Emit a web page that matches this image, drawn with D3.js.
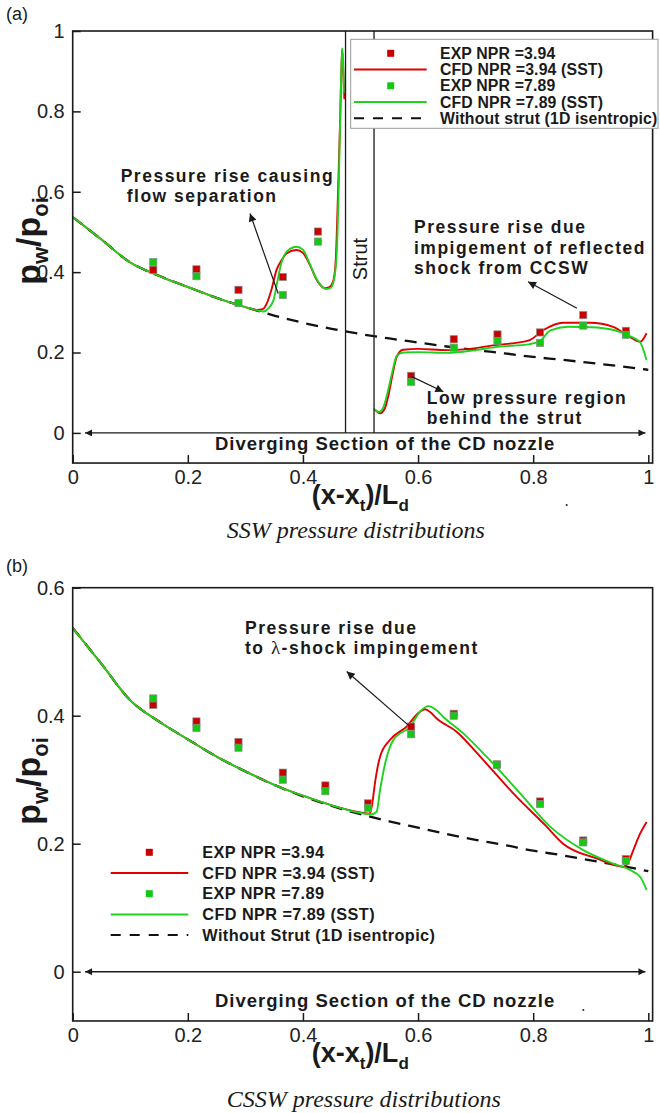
<!DOCTYPE html>
<html>
<head>
<meta charset="utf-8">
<script src="https://cdn.jsdelivr.net/npm/d3@7"></script>
<style>
  body { margin: 0; background: #fff; }
</style>
</head>
<body>
<div id="chart"></div>
<script>
// ---------- data ----------
const xTicks = [0, 0.2, 0.4, 0.6, 0.8, 1];
const yTicksA = [0, 0.2, 0.4, 0.6, 0.8, 1];
const yTicksB = [0, 0.2, 0.4, 0.6];

// 1D isentropic (without strut), same in both panels
const isoX = [0, 0.05, 0.1, 0.15, 0.2, 0.25, 0.3, 0.35, 0.4, 0.45, 0.5, 0.55, 0.6, 0.65, 0.7, 0.75, 0.8, 0.85, 0.9, 0.95, 1.0];
const isoP = [0.537, 0.481, 0.424, 0.391, 0.363, 0.336, 0.313, 0.292, 0.274, 0.259, 0.246, 0.235, 0.225, 0.215, 0.206, 0.198, 0.189, 0.182, 0.174, 0.166, 0.157];

// (a) SSW - experiments
const expXA = [0.14, 0.215, 0.288, 0.365, 0.426, 0.588, 0.662, 0.738, 0.812, 0.887, 0.961];
const expA394 = [0.406, 0.407, 0.356, 0.388, 0.501, 0.142, 0.233, 0.245, 0.250, 0.293, 0.254];
const expA789 = [0.425, 0.390, 0.323, 0.343, 0.476, 0.127, 0.212, 0.229, 0.224, 0.267, 0.244];

// (a) SSW - CFD, upstream of the strut and downstream of it
const cfdA394up = [[0, 0.537], [0.05, 0.481], [0.1, 0.424], [0.15, 0.391], [0.2, 0.363], [0.25, 0.336], [0.3, 0.313],
  [0.32, 0.306], [0.33, 0.308], [0.338, 0.325], [0.346, 0.36], [0.354, 0.405], [0.363, 0.43], [0.372, 0.447],
  [0.389, 0.455], [0.4, 0.448], [0.412, 0.418], [0.425, 0.378], [0.438, 0.36], [0.446, 0.363], [0.453, 0.38],
  [0.457, 0.43], [0.461, 0.6], [0.465, 0.8], [0.468, 0.955], [0.470, 0.9], [0.472, 0.83]];
const cfdA789up = [[0, 0.537], [0.05, 0.481], [0.1, 0.424], [0.15, 0.391], [0.2, 0.363], [0.25, 0.336], [0.3, 0.313],
  [0.32, 0.305], [0.331, 0.302], [0.34, 0.31], [0.349, 0.331], [0.356, 0.38], [0.362, 0.42], [0.372, 0.451],
  [0.389, 0.463], [0.4, 0.456], [0.412, 0.42], [0.425, 0.38], [0.441, 0.358], [0.449, 0.362], [0.455, 0.39],
  [0.459, 0.455], [0.462, 0.6], [0.465, 0.8], [0.468, 0.957], [0.470, 0.92], [0.471, 0.845]];
const cfdA394dn = [[0.525, 0.058], [0.534, 0.049], [0.542, 0.06], [0.548, 0.09], [0.555, 0.14], [0.563, 0.19],
  [0.574, 0.207], [0.6, 0.209], [0.65, 0.206], [0.7, 0.211], [0.737, 0.219], [0.77, 0.224], [0.794, 0.231],
  [0.818, 0.256], [0.852, 0.274], [0.899, 0.274], [0.939, 0.264], [0.968, 0.239], [0.986, 0.227], [0.997, 0.248]];
const cfdA789dn = [[0.523, 0.06], [0.532, 0.052], [0.54, 0.065], [0.547, 0.1], [0.555, 0.15], [0.563, 0.192],
  [0.575, 0.2], [0.6, 0.201], [0.65, 0.199], [0.7, 0.206], [0.737, 0.214], [0.794, 0.221], [0.812, 0.229],
  [0.83, 0.255], [0.86, 0.264], [0.9, 0.263], [0.94, 0.256], [0.968, 0.241], [0.986, 0.225], [0.997, 0.181]];

// (b) CSSW - experiments
const expXB = [0.14, 0.215, 0.288, 0.365, 0.439, 0.513, 0.588, 0.662, 0.737, 0.812, 0.887, 0.961];
const expB394 = [0.417, 0.391, 0.359, 0.311, 0.291, 0.263, 0.383, 0.403, 0.324, 0.266, 0.205, 0.176];
const expB789 = [0.427, 0.381, 0.350, 0.300, 0.282, 0.256, 0.371, 0.400, 0.323, 0.262, 0.202, 0.173];

// (b) CSSW - CFD
const cfdB394 = [[0, 0.537], [0.05, 0.481], [0.1, 0.424], [0.15, 0.391], [0.2, 0.363], [0.25, 0.336], [0.3, 0.313],
  [0.35, 0.292], [0.4, 0.275], [0.45, 0.26], [0.5, 0.249], [0.516, 0.247], [0.52, 0.26], [0.525, 0.294],
  [0.534, 0.336], [0.551, 0.362], [0.58, 0.383], [0.603, 0.406], [0.612, 0.41], [0.622, 0.405], [0.632, 0.396],
  [0.667, 0.375], [0.708, 0.336], [0.765, 0.279], [0.823, 0.227], [0.852, 0.2], [0.91, 0.177], [0.957, 0.164],
  [0.965, 0.17], [0.974, 0.19], [0.986, 0.216], [0.997, 0.234]];
const cfdB789 = [[0, 0.537], [0.05, 0.481], [0.1, 0.424], [0.15, 0.391], [0.2, 0.363], [0.25, 0.336], [0.3, 0.313],
  [0.35, 0.292], [0.4, 0.275], [0.45, 0.26], [0.5, 0.248], [0.519, 0.246], [0.528, 0.25], [0.534, 0.284],
  [0.543, 0.326], [0.557, 0.362], [0.586, 0.383], [0.605, 0.408], [0.618, 0.415], [0.63, 0.41], [0.644, 0.398],
  [0.679, 0.372], [0.719, 0.336], [0.777, 0.279], [0.829, 0.227], [0.887, 0.19], [0.939, 0.169], [0.968, 0.159],
  [0.986, 0.148], [0.997, 0.128]];

const legendA = ["EXP NPR =3.94", "CFD NPR =3.94 (SST)", "EXP NPR =7.89", "CFD NPR =7.89 (SST)", "Without strut (1D isentropic)"];
const legendB = ["EXP NPR =3.94", "CFD NPR =3.94 (SST)", "EXP NPR =7.89", "CFD NPR =7.89 (SST)", "Without Strut (1D isentropic)"];

const strutEdges = [0.474, 0.5235];
const arrowSpan = [0.0215, 0.995];
const sectionText = "Diverging Section of the CD nozzle";
const notesA1 = ["Pressure rise causing", "flow separation"];
const notesA2 = ["Pressure rise due", "impigement of reflected", "shock from CCSW"];
const notesA3 = ["Low pressure region", "behind the strut"];
const notesB = ["Pressure rise due", "to ", "-shock impingement"];
// annotation arrows [tailX, tailY, tipX, tipY] in data units
const arrowsA = [[0.357, 0.347, 0.308, 0.546], [0.876, 0.31, 0.791, 0.376], [0.589, 0.14, 0.644, 0.1025]];
const arrowsB = [[0.586, 0.383, 0.476, 0.469]];

// ---------- drawing ----------
const sans = "'Liberation Sans', Arial, Helvetica, sans-serif";
const serif = "'Liberation Serif', 'Times New Roman', serif";
const redLine = "#e00000", greenLine = "#1ed21e";
const redMark = "#c80000", greenMark = "#14c814";
const ink = "#1a1a1a";

const svg = d3.select("#chart").append("svg")
    .attr("width", 660)
    .attr("height", 1113);

const defs = svg.append("defs");
defs.append("marker")
    .attr("id", "head")
    .attr("viewBox", "0 0 10 10")
    .attr("refX", 10).attr("refY", 5)
    .attr("markerUnits", "userSpaceOnUse")
    .attr("markerWidth", 11).attr("markerHeight", 8)
    .attr("orient", "auto")
    .append("path").attr("d", "M0,0L10,5L0,10z").attr("fill", ink);
defs.append("marker")
    .attr("id", "bighead")
    .attr("viewBox", "0 0 10 10")
    .attr("refX", 10).attr("refY", 5)
    .attr("markerUnits", "userSpaceOnUse")
    .attr("markerWidth", 15).attr("markerHeight", 7)
    .attr("orient", "auto-start-reverse")
    .append("path").attr("d", "M0,0L10,5L0,10z").attr("fill", ink);

function drawPanel(p) {
    const x = d3.scaleLinear().domain([0, 1]).range([72.7, 648.3]);
    const y = d3.scaleLinear().domain([0, p.yMax]).range([p.yZeroPx, p.yTopPx]);
    const left = x(0), right = x(1.0075), top = y(p.yMax), bottom = y(p.yMin);
    const g = svg.append("g");

    const line = d3.line()
        .x(d => x(d[0]))
        .y(d => y(d[1]))
        .curve(d3.curveMonotoneX);

    // axes (ticks point into the plot)
    const minorX = d3.range(1, 20).map(i => i * 0.05).filter((v, i) => (i + 1) % 4 !== 0);
    const minorY = d3.range(-1, Math.round(p.yMax * 20)).map(i => i * 0.05).filter((v, i) => (i - 1 + 4) % 4 !== 0);

    const xAxisG = g.append("g").attr("transform", `translate(0,${bottom})`);
    xAxisG.call(d3.axisBottom(x).tickValues(minorX).tickSize(-5).tickFormat(""));
    xAxisG.call(d3.axisBottom(x).tickValues(xTicks).tickSize(-8).tickPadding(7).tickFormat(d3.format("~g")));
    const yAxisG = g.append("g").attr("transform", `translate(${left},0)`);
    yAxisG.call(d3.axisLeft(y).tickValues(minorY).tickSize(-5).tickFormat(""));
    yAxisG.call(d3.axisLeft(y).tickValues(p.yTicks).tickSize(-8).tickPadding(8).tickFormat(d3.format("~g")));
    [xAxisG, yAxisG].forEach(a => {
        a.selectAll(".domain").remove();
        a.attr("color", ink);
        a.selectAll("line").attr("stroke-width", 1.5);
        a.selectAll("text").style("font-family", sans).style("font-size", "20px").attr("fill", "#222");
    });

    // isentropic line
    g.append("path")
        .datum(d3.zip(isoX, isoP))
        .attr("d", line)
        .attr("fill", "none")
        .attr("stroke", "#111")
        .attr("stroke-width", 2.3)
        .attr("stroke-dasharray", "12,8");

    // CFD lines
    p.red.forEach(seg => g.append("path").datum(seg).attr("d", line)
        .attr("fill", "none").attr("stroke", redLine).attr("stroke-width", 1.9));
    p.green.forEach(seg => g.append("path").datum(seg).attr("d", line)
        .attr("fill", "none").attr("stroke", greenLine).attr("stroke-width", 1.9));

    // experimental squares
    [[p.exp394, redMark], [p.exp789, greenMark]].forEach(([vals, col]) => {
        g.append("g").selectAll("rect")
            .data(d3.zip(p.expX, vals))
            .enter().append("rect")
            .attr("x", d => x(d[0]) - 3.6)
            .attr("y", d => y(d[1]) - 3.6)
            .attr("width", 7.2)
            .attr("height", 7.2)
            .attr("fill", col)
            .attr("stroke", "#8a8a8a")
            .attr("stroke-width", 0.7);
    });

    // frame
    g.append("rect")
        .attr("x", left).attr("y", top)
        .attr("width", right - left).attr("height", bottom - top)
        .attr("fill", "none").attr("stroke", ink).attr("stroke-width", 1.6);

    // double arrow along y = 0
    g.append("line")
        .attr("x1", x(arrowSpan[0])).attr("x2", x(arrowSpan[1]))
        .attr("y1", y(0)).attr("y2", y(0))
        .attr("stroke", ink).attr("stroke-width", 1.4)
        .attr("marker-start", "url(#bighead)")
        .attr("marker-end", "url(#bighead)");
    g.append("text")
        .attr("x", 215).attr("y", y(0) + p.sectionDy)
        .style("font-family", sans).style("font-size", "18.5px").style("font-weight", "bold")
        .style("letter-spacing", "1px")
        .attr("fill", ink)
        .text(sectionText);

    // annotation arrows
    g.selectAll(".note-arrow")
        .data(p.arrows)
        .enter().append("line")
        .attr("x1", d => x(d[0])).attr("y1", d => y(d[1]))
        .attr("x2", d => x(d[2])).attr("y2", d => y(d[3]))
        .attr("stroke", ink).attr("stroke-width", 1.2)
        .attr("marker-end", "url(#head)");

    // y label p_w/p_oi
    const yl = g.append("text")
        .attr("transform", `translate(40,${p.yLabelY}) rotate(-90)`)
        .attr("text-anchor", "middle")
        .style("font-family", sans).style("font-weight", "bold").style("font-size", "34px")
        .attr("fill", ink);
    yl.append("tspan").text("p");
    yl.append("tspan").attr("dy", 8).style("font-size", "22px").text("w");
    yl.append("tspan").attr("dy", -8).text("/p");
    yl.append("tspan").attr("dy", 8).style("font-size", "22px").text("oi");

    // x label (x-x_t)/L_d
    const xl = g.append("text")
        .attr("x", 311.7).attr("y", bottom + 41)
        .style("font-family", sans).style("font-weight", "bold").style("font-size", "27px")
        .attr("fill", ink);
    xl.append("tspan").text("(x-x");
    xl.append("tspan").attr("dy", 7).style("font-size", "17px").text("t");
    xl.append("tspan").attr("dy", -7).text(")/L");
    xl.append("tspan").attr("dy", 7).style("font-size", "17px").text("d");

    // caption + panel letter
    g.append("text")
        .attr("x", 226.7).attr("y", p.captionY)
        .style("font-family", serif).style("font-style", "italic").style("font-size", "24px")
        .attr("fill", ink)
        .text(p.caption);
    g.append("text")
        .attr("x", 6).attr("y", p.letterY)
        .style("font-family", sans).style("font-size", "18px")
        .attr("fill", ink)
        .text(p.letter);
    g.append("circle").attr("cx", p.dot[0]).attr("cy", p.dot[1]).attr("r", 1.1).attr("fill", "#333");

    return { g, x, y, top, bottom };
}

function noteLines(g, lines, x0, y0, dy) {
    lines.forEach((t, i) => {
        g.append("text")
            .attr("x", x0[i]).attr("y", y0 + i * dy)
            .style("font-family", sans).style("font-weight", "bold").style("font-size", "17.5px")
            .style("letter-spacing", "1.5px")
            .attr("fill", ink)
            .text(t);
    });
}

function legend(g, labels, o) {
    if (o.box) {
        g.append("rect")
            .attr("x", o.box[0]).attr("y", o.box[1]).attr("width", o.box[2]).attr("height", o.box[3])
            .attr("fill", "#fff").attr("stroke", "#9a9a9a").attr("stroke-width", 1);
    }
    labels.forEach((lab, i) => {
        const cy = o.y0 + i * o.dy;
        if (i === 0 || i === 2) {
            g.append("rect")
                .attr("x", o.sym - 3.5).attr("y", cy - 3.5).attr("width", 7).attr("height", 7)
                .attr("fill", i === 0 ? redMark : greenMark);
        } else {
            g.append("line")
                .attr("x1", o.l0).attr("x2", o.l1).attr("y1", cy).attr("y2", cy)
                .attr("stroke", i === 1 ? redLine : i === 3 ? greenLine : "#111")
                .attr("stroke-width", 2)
                .attr("stroke-dasharray", i === 4 ? "10,9" : null);
        }
        g.append("text")
            .attr("x", o.tx).attr("y", cy + 5.6)
            .style("font-family", sans).style("font-weight", "bold").style("font-size", o.fs)
            .style("letter-spacing", o.ls)
            .attr("fill", ink)
            .text(lab);
    });
}

// ----- panel (a) -----
const A = drawPanel({
    yMax: 1, yMin: -0.075, yZeroPx: 432.9, yTopPx: 31, yTicks: yTicksA,
    expX: expXA, exp394: expA394, exp789: expA789,
    red: [cfdA394up, cfdA394dn], green: [cfdA789up, cfdA789dn],
    arrows: arrowsA, sectionDy: 17.5, yLabelY: 241,
    caption: "SSW pressure distributions", captionY: 538, letter: "(a)", letterY: 20,
    dot: [566.7, 505]
});

// strut walls
A.g.selectAll(".strut")
    .data(strutEdges)
    .enter().append("line")
    .attr("x1", d => A.x(d)).attr("x2", d => A.x(d))
    .attr("y1", A.top).attr("y2", A.y(0))
    .attr("stroke", ink).attr("stroke-width", 1.3);
A.g.append("text")
    .attr("transform", `translate(${(A.x(strutEdges[0]) + A.x(strutEdges[1])) / 2 + 7},259) rotate(-90)`)
    .attr("text-anchor", "middle")
    .style("font-family", sans).style("font-size", "20px")
    .attr("fill", ink)
    .text("Strut");

noteLines(A.g, notesA1, [120.7, 126.7], 181.7, 20);
noteLines(A.g, notesA2, [414, 414, 414], 233.3, 20.3);
noteLines(A.g, notesA3, [426.7, 426.7], 404, 20);

legend(A.g, legendA, { box: [350.7, 39.3, 307.3, 89], y0: 53.3, dy: 16.25, sym: 390.7, l0: 354, l1: 426.7, tx: 440, fs: "15.8px", ls: "0.15px" });

// ----- panel (b) -----
const B = drawPanel({
    yMax: 0.6, yMin: -0.077, yZeroPx: 971.7, yTopPx: 587.7, yTicks: yTicksB,
    expX: expXB, exp394: expB394, exp789: expB789,
    red: [cfdB394], green: [cfdB789],
    arrows: arrowsB, sectionDy: 35, yLabelY: 781,
    caption: "CSSW pressure distributions", captionY: 1106.7, letter: "(b)", letterY: 572,
    dot: [583.3, 1010]
});

noteLines(B.g, [notesB[0]], [245], 634, 20);
const lam = B.g.append("text")
    .attr("x", 245).attr("y", 654)
    .style("font-family", sans).style("font-weight", "bold").style("font-size", "17.5px")
    .style("letter-spacing", "1.5px")
    .attr("fill", ink);
lam.append("tspan").text(notesB[1]);
lam.append("tspan").style("font-family", serif).style("font-weight", "normal").style("font-size", "19px").text("\u03bb");
lam.append("tspan").text(notesB[2]);

legend(B.g, legendB, { y0: 852.3, dy: 20.7, sym: 149.3, l0: 110.7, l1: 188.3, tx: 202.3, fs: "16.3px", ls: "0.4px" });
</script>
</body>
</html>
